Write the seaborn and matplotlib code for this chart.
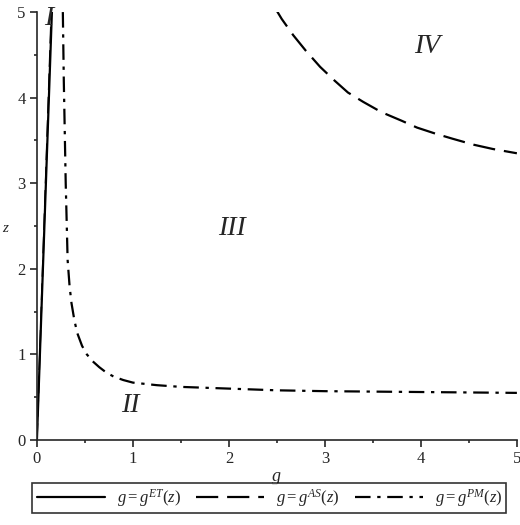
import numpy as np
import matplotlib
matplotlib.use("Agg")
import matplotlib.pyplot as plt
import seaborn as sns

# boundary curves
g_et = [0.0, 0.156]
z_et = [0.0, 5.0]

g_as_low = [0.0, 0.15]
z_as_low = [0.0, 5.0]
g_as = [2.48, 2.55, 2.67, 2.8, 2.95, 3.1, 3.24, 3.4, 3.59, 3.8, 3.96, 4.15, 4.33, 4.55, 4.75, 5.0]
z_as = [5.05, 4.92, 4.73, 4.55, 4.36, 4.2, 4.06, 3.95, 3.83, 3.73, 3.65, 3.58, 3.52, 3.45, 3.40, 3.35]

g_pm = [0.27, 0.28, 0.30, 0.32, 0.34, 0.36, 0.39, 0.42, 0.47, 0.52, 0.58, 0.65, 0.72, 0.8, 0.9,
        1.0, 1.25, 1.5, 2.0, 2.5, 3.0, 4.0, 5.0]
z_pm = [5.0, 4.2, 3.0, 2.1, 1.8, 1.6, 1.4, 1.25, 1.1, 1.0, 0.92, 0.85, 0.79, 0.74, 0.70,
        0.67, 0.64, 0.62, 0.60, 0.58, 0.57, 0.56, 0.55]

region_labels = ["I", "II", "III", "IV"]
region_g = [0.12, 0.97, 2.03, 4.07]
region_z = [4.92, 0.40, 2.47, 4.60]

sns.set_style("ticks")
plt.rcParams['font.family'] = ['Liberation Serif', 'DejaVu Serif']
plt.rcParams['mathtext.fontset'] = 'custom'
plt.rcParams['mathtext.rm'] = 'Liberation Serif'
plt.rcParams['mathtext.it'] = 'Liberation Serif:italic'

fig = plt.figure(figsize=(5.2, 5.25), dpi=100)
ax = fig.add_axes([0.071, 0.162, 0.923, 0.815])

lw = 1.6
sns.lineplot(x=g_et, y=z_et, ax=ax, color='black', lw=lw, sort=False,
             label=r'$g = g^{ET}(z)$')
sns.lineplot(x=g_as, y=z_as, ax=ax, color='black', lw=lw, sort=False,
             linestyle=(0, (10, 4)), label=r'$g = g^{AS}(z)$')
ax.plot(g_as_low, z_as_low, color='black', lw=1.2, linestyle=(0, (10, 4)))
sns.lineplot(x=g_pm, y=z_pm, ax=ax, color='black', lw=lw, sort=False,
             linestyle=(0, (7, 3, 1.5, 3)), label=r'$g = g^{PM}(z)$')

for lab, gx, zy in zip(region_labels, region_g, region_z):
    ax.text(gx, zy, lab, fontsize=20, style='italic', ha='center', va='center')

ax.set_xlim(0, 5)
ax.set_ylim(0, 5)
ax.set_xticks([0, 1, 2, 3, 4, 5])
ax.set_yticks([0, 1, 2, 3, 4, 5])
ax.set_xticks(np.arange(0.5, 5, 1), minor=True)
ax.set_yticks(np.arange(0.5, 5, 1), minor=True)
ax.tick_params(which='major', direction='out', length=5, width=1.2, labelsize=12, pad=3)
ax.tick_params(which='minor', direction='out', length=2.5, width=1.2)
ax.set_xlabel('g', fontsize=13, style='italic', labelpad=1)
ax.set_ylabel('z', fontsize=11, style='italic', rotation=0, ha='center', va='center')
ax.yaxis.set_label_coords(-0.066, 0.494)
sns.despine(ax=ax)
for s in ['left', 'bottom']:
    ax.spines[s].set_linewidth(1.2)

leg = ax.legend(loc='center', bbox_to_anchor=(0.518, 0.052), bbox_transform=fig.transFigure,
                ncol=3, frameon=True, fancybox=False, edgecolor='black', fontsize=12,
                handlelength=4.1, columnspacing=0.9, handletextpad=0.7, borderpad=0.25)
leg.get_frame().set_linewidth(1.2)

fig.savefig('out.png', dpi=100)
